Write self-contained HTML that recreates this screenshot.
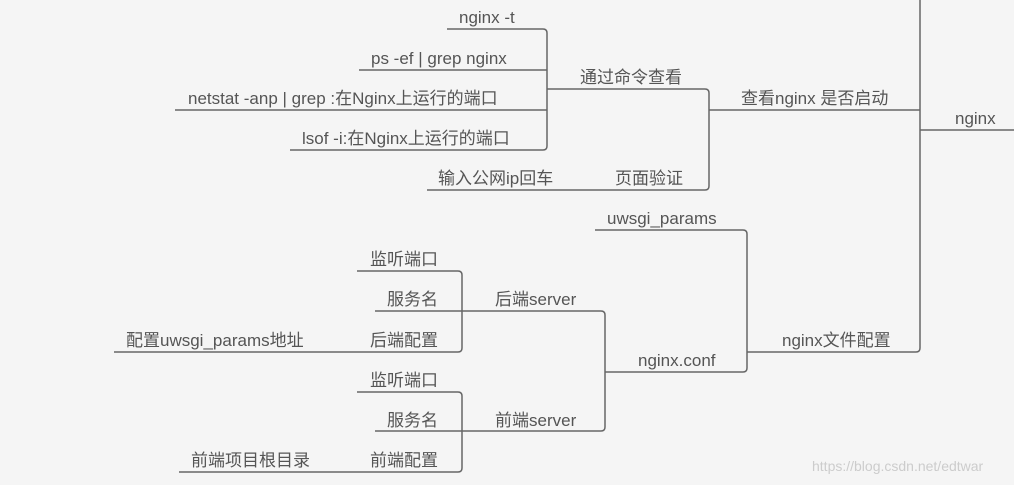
<!DOCTYPE html>
<html><head><meta charset="utf-8"><style>
html,body{margin:0;padding:0;background:#f5f5f5;}
svg{display:block}
text{font-family:"Liberation Sans","Noto Sans CJK SC",sans-serif;font-size:17px;fill:#555;}
</style></head><body>
<svg width="1014" height="485" viewBox="0 0 1014 485">
<rect width="1014" height="485" fill="#f5f5f5"/>
<g stroke="#666" stroke-width="1.5" fill="none">
<path d="M447 29H543q4 0 4 4V146q0 4-4 4H290"/>
<path d="M359 70H547M175 110H547M547 89H705q4 0 4 4V186q0 4-4 4H427"/>
<path d="M709 110H920M920 0V348q0 4-4 4H747M920 130H1014"/>
<path d="M595 230H743q4 0 4 4V368q0 4-4 4H605"/>
<path d="M357 271H458q4 0 4 4V348q0 4-4 4H114M375 311H601q4 0 4 4V427q0 4-4 4H375"/>
<path d="M357 392H458q4 0 4 4V468q0 4-4 4H179"/>
</g>
<text x="459" y="23">nginx -t</text>
<text x="371" y="64">ps -ef | grep nginx</text>
<text x="188" y="104">netstat -anp | grep :在Nginx上运行的端口</text>
<text x="302" y="144">lsof -i:在Nginx上运行的端口</text>
<text x="580" y="83">通过命令查看</text>
<text x="438" y="184">输入公网ip回车</text>
<text x="615" y="184">页面验证</text>
<text x="741" y="104">查看nginx 是否启动</text>
<text x="955" y="124">nginx</text>
<text x="607" y="224">uwsgi_params</text>
<text x="370" y="265">监听端口</text>
<text x="387" y="305">服务名</text>
<text x="495" y="305">后端server</text>
<text x="126" y="346">配置uwsgi_params地址</text>
<text x="370" y="346">后端配置</text>
<text x="638" y="366">nginx.conf</text>
<text x="782" y="346">nginx文件配置</text>
<text x="370" y="386">监听端口</text>
<text x="387" y="426">服务名</text>
<text x="495" y="426">前端server</text>
<text x="191" y="466">前端项目根目录</text>
<text x="370" y="466">前端配置</text>
<text x="812" y="471" style="font-size:14px;fill:#ccc">https://blog.csdn.net/edtwar</text>
</svg>
</body></html>
